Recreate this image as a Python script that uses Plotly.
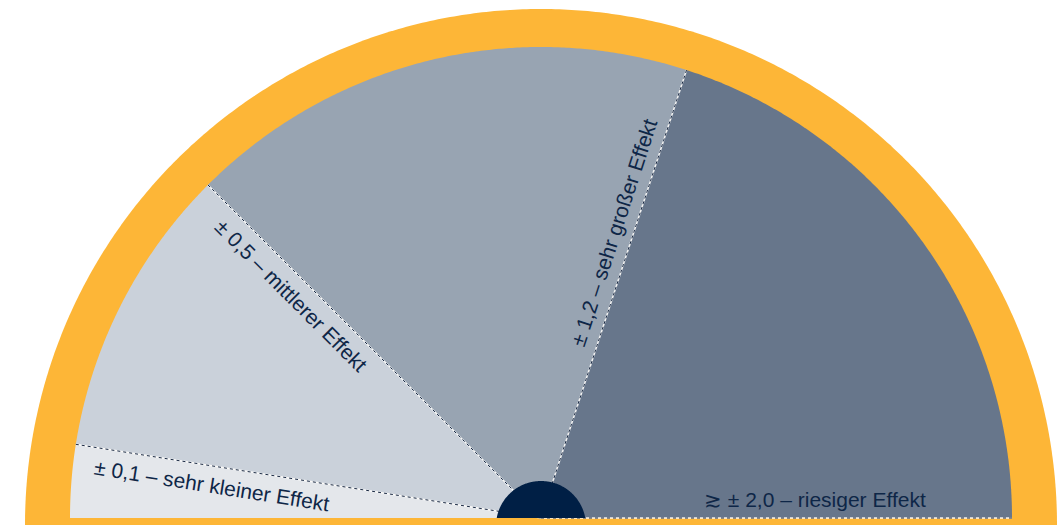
import numpy as np
import plotly.graph_objects as go

# ---- data ----
thresholds = [0.1, 0.5, 1.2, 2.0]          # effect size boundaries
scale_max = 2.0
labels = ["± 0,1 – sehr kleiner Effekt",
          "± 0,5 – mittlerer Effekt",
          "± 1,2 – sehr großer Effekt",
          "≳ ± 2,0 – riesiger Effekt"]
seg_colors = ["#e4e7eb", "#cad1da", "#98a4b2", "#67768b"]

# ---- style / geometry ----
R_inner = 471
R_outer = 516
outer_cy = -7
hub_r, hub_cy = 45, -8
label_along = [330, 334, 294, 274]
label_offset = 19
orange = "#fdb637"
navy = "#001f45"
text_color = "#0e2647"

def ang(v):
    return np.pi * (1 - v / scale_max)

fig = go.Figure()

# outer orange semicircle
t = np.linspace(0, np.pi, 400)
fig.add_trace(go.Scatter(x=R_outer * np.cos(t), y=outer_cy + R_outer * np.sin(t),
                         fill="toself", fillcolor=orange, mode="none", hoverinfo="skip"))

# segments
lo = 0.0
for v, c in zip(thresholds, seg_colors):
    tt = np.linspace(ang(lo), ang(v), 200)
    xs = np.concatenate([[0], R_inner * np.cos(tt), [0]])
    ys = np.concatenate([[0], R_inner * np.sin(tt), [0]])
    fig.add_trace(go.Scatter(x=xs, y=ys, fill="toself", fillcolor=c, mode="none",
                             hoverinfo="skip"))
    lo = v

# boundary lines
for v in thresholds:
    a = ang(v)
    xs = [0, R_inner * np.cos(a)]
    ys = [0, R_inner * np.sin(a)]
    fig.add_trace(go.Scatter(x=xs, y=ys, mode="lines",
                             line=dict(color="rgba(255,255,255,0.9)", width=1.5),
                             hoverinfo="skip"))
    fig.add_trace(go.Scatter(x=xs, y=ys, mode="lines",
                             line=dict(color="#1a2a44", width=1, dash="dot"),
                             hoverinfo="skip"))

# hub
p0 = np.arcsin(-hub_cy / hub_r)
pp = np.linspace(p0, np.pi - p0, 200)
fig.add_trace(go.Scatter(x=hub_r * np.cos(pp), y=hub_cy + hub_r * np.sin(pp),
                         fill="toself", fillcolor=navy, mode="none", hoverinfo="skip"))

# labels
for v, txt, d in zip(thresholds, labels, label_along):
    a = ang(v)
    ux, uy = np.cos(a), np.sin(a)
    nx, ny = -np.sin(a), np.cos(a)
    x = d * ux + label_offset * nx
    y = d * uy + label_offset * ny
    deg = np.degrees(a)
    rot = 180 - deg if deg > 90 else -deg
    fig.add_annotation(x=x, y=y, text=txt, showarrow=False, textangle=rot,
                       xanchor="center", yanchor="middle",
                       font=dict(family="Liberation Sans, Arial, sans-serif",
                                 size=21, color=text_color))

fig.update_layout(
    width=1064, height=525, margin=dict(l=0, r=0, t=0, b=0),
    paper_bgcolor="white", plot_bgcolor="white", showlegend=False,
    xaxis=dict(range=[-541, 523], visible=False, fixedrange=True),
    yaxis=dict(range=[-7, 518], visible=False, fixedrange=True),
)

fig.write_html("out.html")
